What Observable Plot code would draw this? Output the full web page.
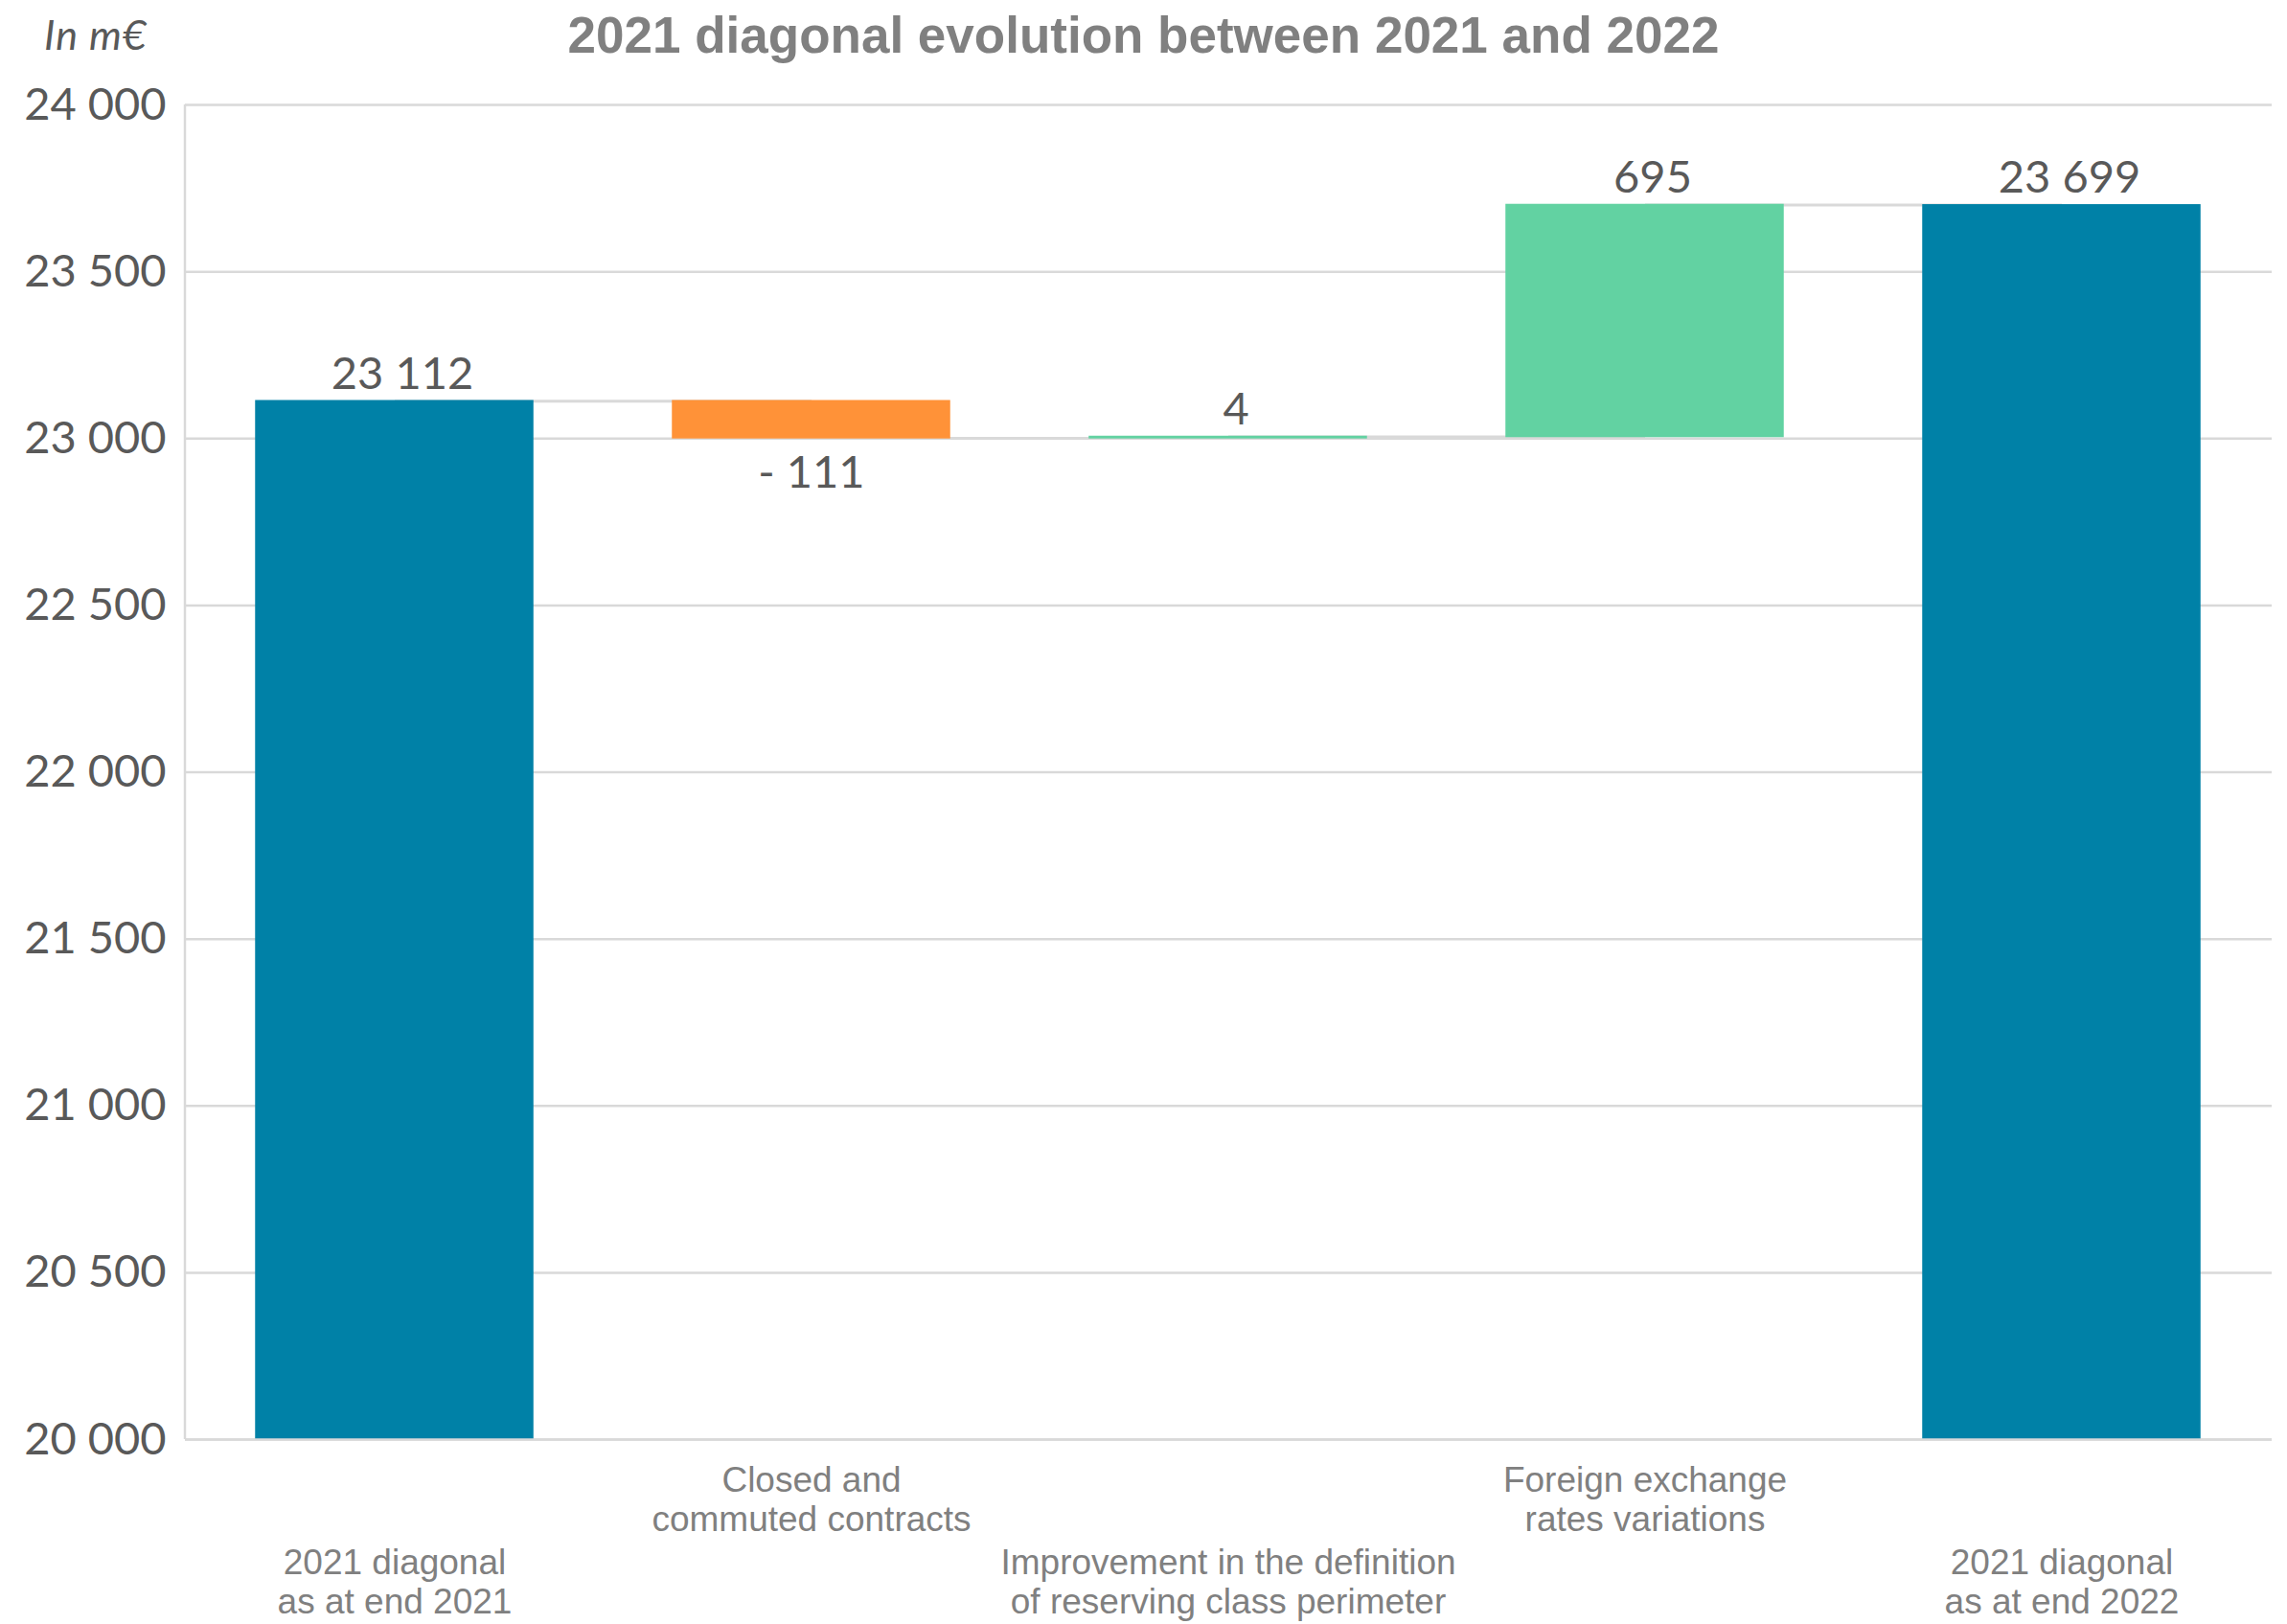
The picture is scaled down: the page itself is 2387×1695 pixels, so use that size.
<!DOCTYPE html>
<html><head><meta charset="utf-8">
<script src="https://cdn.jsdelivr.net/npm/d3@7"></script>
<script src="https://cdn.jsdelivr.net/npm/@observablehq/plot@0.6"></script>
<style>
html,body{margin:0;padding:0;background:#fff;}
#wrap{position:relative;width:2387px;height:1695px;overflow:hidden;}
#chart{position:absolute;top:0;left:0;}
#title{position:absolute;top:10px;left:0;width:2387px;text-align:center;font:bold 53px/53px "Liberation Sans",Arial,sans-serif;color:#808080;white-space:nowrap;}
#unit{position:absolute;top:14px;left:46px;font:italic 43px/43px Lato,sans-serif;letter-spacing:1px;color:#595959;white-space:nowrap;}
</style></head><body>
<div id="wrap"><div id="chart"></div><div id="title">2021 diagonal evolution between 2021 and 2022</div><div id="unit">In m€</div></div>
<script>
const categories = [
  "2021 diagonal\nas at end 2021",
  "Closed and\ncommuted contracts",
  "Improvement in the definition\nof reserving class perimeter",
  "Foreign exchange\nrates variations",
  "2021 diagonal\nas at end 2022"
];
const values = [23112, -111, 4, 695, 23699];
const kinds = ["total", "delta", "delta", "delta", "total"];
const valueLabels = ["23 112", "- 111", "4", "695", "23 699"];
const yTicks = [20000, 20500, 21000, 21500, 22000, 22500, 23000, 23500, 24000];
const yDomain = [20000, 24000];
const colors = {total: "#0081A7", up: "#62D2A2", down: "#FF9238"};

let running = 0;
const rows = categories.map((c, i) => {
  const v = values[i];
  let y1, y2, type;
  if (kinds[i] === "total") { y1 = yDomain[0]; y2 = v; running = v; type = "total"; }
  else { y1 = running; y2 = running + v; running = y2; type = v < 0 ? "down" : "up"; }
  return {cat: c, i, y1, y2, type, top: Math.max(y1, y2), bottom: Math.min(y1, y2), label: valueLabels[i], level: running};
});
const connectors = rows.slice(0, -1).map((r, i) => ({from: r.cat, to: rows[i + 1].cat, level: r.level}));

const fmt = d => d3.format(",")(d).replace(/,/g, " ");

function leftLine(index, scales, values, dims) {
  const l = document.createElementNS("http://www.w3.org/2000/svg", "line");
  l.setAttribute("x1", dims.marginLeft);
  l.setAttribute("x2", dims.marginLeft);
  l.setAttribute("y1", dims.marginTop);
  l.setAttribute("y2", dims.height - dims.marginBottom);
  l.setAttribute("stroke", "#d9d9d9");
  l.setAttribute("stroke-width", 2.5);
  return l;
}

const chart = Plot.plot({
  width: 2387, height: 1695,
  marginTop: 109, marginBottom: 193, marginLeft: 193, marginRight: 16,
  style: {fontFamily: "Lato, sans-serif", fontSize: "47px", color: "#595959", background: "transparent"},
  x: {type: "band", domain: categories, paddingInner: 0.335, paddingOuter: 0.1675, axis: null},
  y: {domain: yDomain},
  marks: [
    Plot.gridY(yTicks, {stroke: "#d9d9d9", strokeOpacity: 1, strokeWidth: 2.5}),
    leftLine,
    Plot.axisY(yTicks, {tickSize: 0, tickPadding: 20, tickFormat: fmt, fontSize: 47, fill: "#595959", label: null}),
    Plot.link(connectors, {x1: "from", x2: "to", y1: "level", y2: "level", stroke: "#d9d9d9", strokeWidth: 3}),
    Plot.barY(rows, {x: "cat", y1: "y1", y2: "y2", fill: d => colors[d.type], stroke: d => colors[d.type], strokeWidth: 1.5}),
    Plot.ruleY([yDomain[0]], {stroke: "#d9d9d9", strokeWidth: 2.5}),
    Plot.text(rows.filter(d => d.type !== "down"), {x: "cat", y: "top", text: "label", lineAnchor: "bottom", dy: -13, dx: 8, fill: "#595959", fontSize: 47, fontFamily: "Lato, sans-serif"}),
    Plot.text(rows.filter(d => d.type === "down"), {x: "cat", y: "bottom", text: "label", lineAnchor: "bottom", dy: 52, fill: "#595959", fontSize: 47, fontFamily: "Lato, sans-serif"}),
    Plot.text(rows.filter(d => d.i % 2 === 1), {x: "cat", text: "cat", frameAnchor: "bottom", lineAnchor: "top", dy: 25, fontFamily: "Liberation Sans, Arial, sans-serif", fontSize: 37, lineHeight: 1.12, fill: "#808080"}),
    Plot.text(rows.filter(d => d.i % 2 === 0), {x: "cat", text: "cat", frameAnchor: "bottom", lineAnchor: "top", dy: 111, fontFamily: "Liberation Sans, Arial, sans-serif", fontSize: 37, lineHeight: 1.12, fill: "#808080"})
  ]
});
document.getElementById("chart").appendChild(chart);
</script>
</body></html>
